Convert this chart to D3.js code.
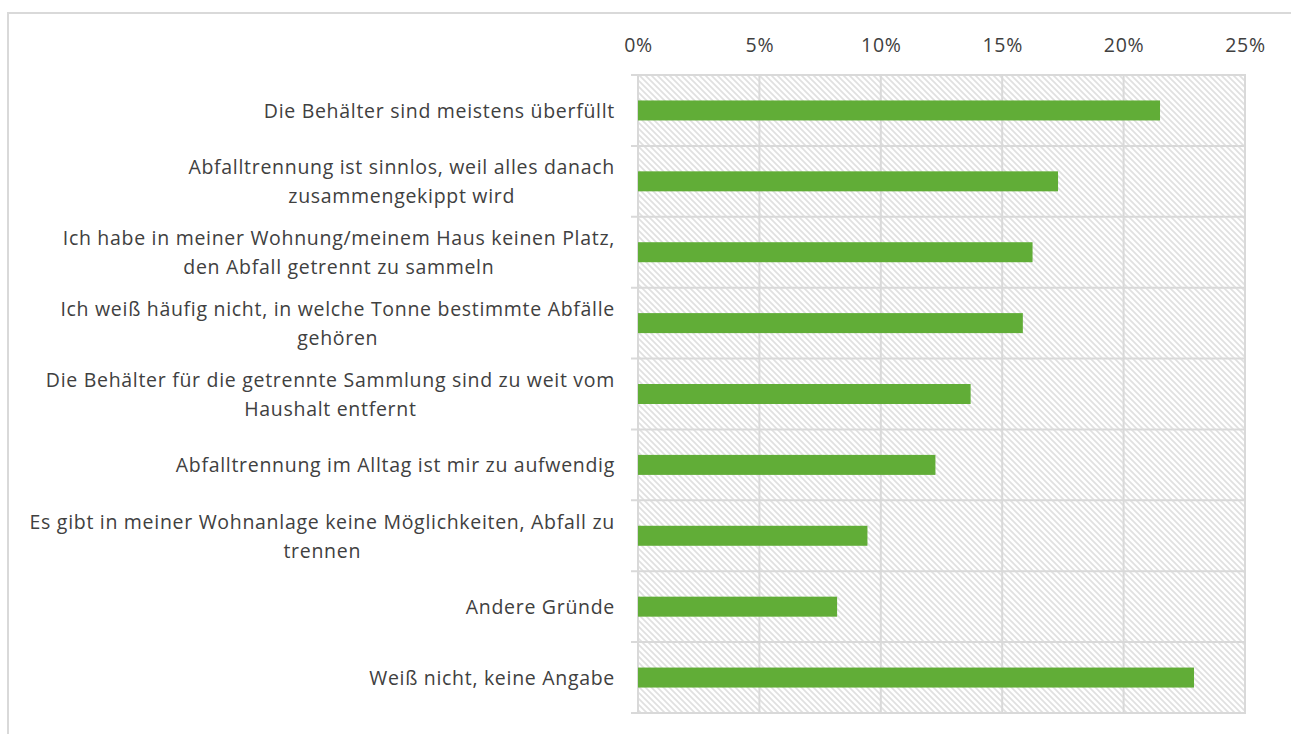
<!DOCTYPE html>
<html>
<head>
<meta charset="utf-8">
<script src="https://cdn.jsdelivr.net/npm/d3@7"></script>
<style>
  html, body { margin: 0; padding: 0; background: #fff; }
  svg { display: block; }
  text { font-family: "Open Sans", Lato, sans-serif; fill: #404040; }
</style>
</head>
<body>
<svg id="chart" width="1291" height="734"></svg>
<script>
const categories = [
  "Die Behälter sind meistens überfüllt",
  "Abfalltrennung ist sinnlos, weil alles danach\nzusammengekippt wird",
  "Ich habe in meiner Wohnung/meinem Haus keinen Platz,\nden Abfall getrennt zu sammeln",
  "Ich weiß häufig nicht, in welche Tonne bestimmte Abfälle\ngehören",
  "Die Behälter für die getrennte Sammlung sind zu weit vom\nHaushalt entfernt",
  "Abfalltrennung im Alltag ist mir zu aufwendig",
  "Es gibt in meiner Wohnanlage keine Möglichkeiten, Abfall zu\ntrennen",
  "Andere Gründe",
  "Weiß nicht, keine Angabe"
];
const values = [21.5, 17.3, 16.25, 15.85, 13.7, 12.25, 9.45, 8.2, 22.9];
const tickValues = [0, 5, 10, 15, 20, 25];
const tickLabels = ["0%", "5%", "10%", "15%", "20%", "25%"];

const svg = d3.select("#chart");
const W = 1291, H = 734;
const plot = { left: 638, right: 1245, top: 75, bottom: 713 };
const FS = 19.5, LS = 0.7;

// outer frame
svg.append("rect")
  .attr("x", 8).attr("y", 13)
  .attr("width", W + 20).attr("height", H + 20)
  .attr("fill", "#fff").attr("stroke", "#d9d9d9").attr("stroke-width", 2);

// hatch pattern
const defs = svg.append("defs");
const pat = defs.append("pattern")
  .attr("id", "hatch").attr("patternUnits", "userSpaceOnUse")
  .attr("width", 6).attr("height", 6);
pat.append("rect").attr("width", 6).attr("height", 6).attr("fill", "#fff");
pat.append("path").attr("d", "M-1,-1 L7,7 M-4,2 L2,8 M4,-2 L8,2")
  .attr("stroke", "#e0e0e0").attr("stroke-width", 1.7);

const x = d3.scaleLinear().domain([0, 25]).range([plot.left, plot.right]);
const y = d3.scaleBand().domain(categories).range([plot.top, plot.bottom]).paddingInner(0).paddingOuter(0);

svg.append("rect")
  .attr("x", plot.left).attr("y", plot.top)
  .attr("width", plot.right - plot.left).attr("height", plot.bottom - plot.top)
  .attr("fill", "url(#hatch)");

// vertical gridlines
svg.append("g").selectAll("line").data(tickValues).join("line")
  .attr("x1", d => x(d)).attr("x2", d => x(d))
  .attr("y1", plot.top).attr("y2", plot.bottom)
  .attr("stroke", "#d9d9d9").attr("stroke-width", 2);

// horizontal band lines (with tick extension)
const bounds = categories.map(c => y(c)).concat([y(categories[categories.length - 1]) + y.bandwidth()]);
svg.append("g").selectAll("line").data(bounds).join("line")
  .attr("x1", plot.left - 7).attr("x2", plot.right + 1)
  .attr("y1", d => d).attr("y2", d => d)
  .attr("stroke", "#d9d9d9").attr("stroke-width", 2);

// top axis labels
const xAxis = d3.axisTop(x).tickValues(tickValues)
  .tickFormat((d, i) => tickLabels[i]).tickSize(0).tickPadding(0);
const gx = svg.append("g").attr("transform", "translate(0,52)").call(xAxis);
gx.select(".domain").remove();
gx.selectAll("text").attr("font-size", FS).attr("fill", "#404040")
  .style("letter-spacing", LS + "px")
  .style("font-family", "'Open Sans', Lato, sans-serif");

// bars
const barH = 20;
svg.append("g").selectAll("rect").data(values).join("rect")
  .attr("x", x(0))
  .attr("y", (d, i) => y(categories[i]) + (y.bandwidth() - barH) / 2)
  .attr("width", d => x(d) - x(0))
  .attr("height", barH)
  .attr("fill", "#61ad37");

// category labels
const labelRight = 615;
const lineH = 29;
const lg = svg.append("g");
categories.forEach((c, i) => {
  const lines = c.split("\n");
  const cy = y(c) + y.bandwidth() / 2;
  const t = lg.append("text").attr("font-size", FS).attr("text-anchor", "middle")
    .style("letter-spacing", LS + "px");
  const tspans = lines.map((ln, k) => t.append("tspan")
    .attr("y", cy + (k - (lines.length - 1) / 2) * lineH)
    .attr("dominant-baseline", "central")
    .text(ln));
  let maxW = 0;
  tspans.forEach(ts => { maxW = Math.max(maxW, ts.node().getComputedTextLength()); });
  tspans.forEach(ts => ts.attr("x", labelRight - maxW / 2));
});
</script>
</body>
</html>
